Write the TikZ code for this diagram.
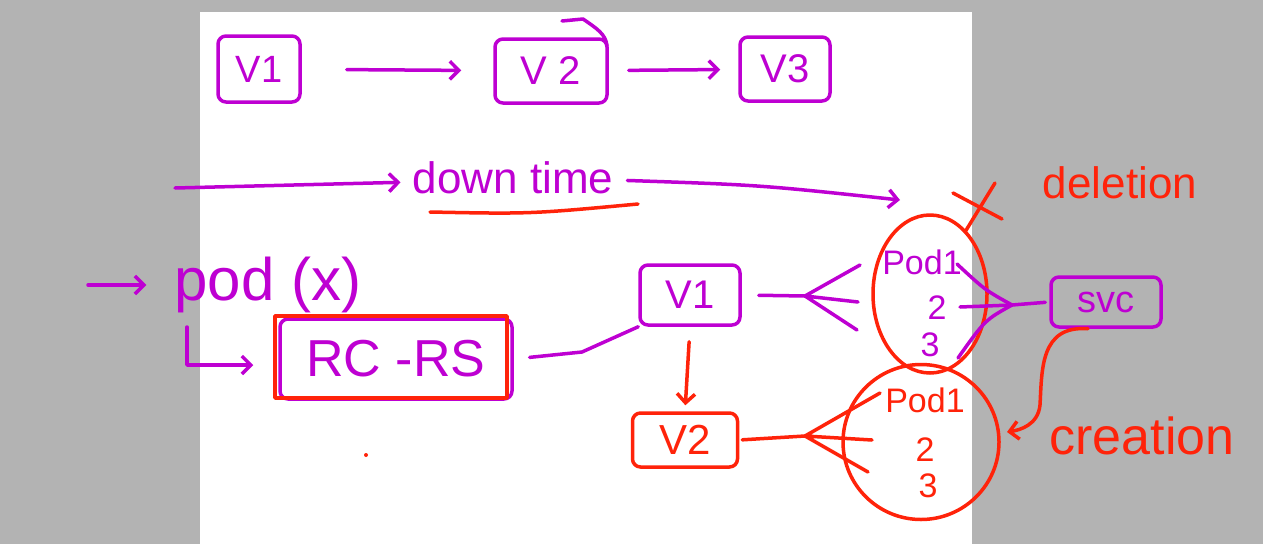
\documentclass[tikz,border=0pt]{standalone}
\usepackage{fontspec}
\setmainfont{Liberation Sans}
\usetikzlibrary{arrows.meta,shapes.geometric}
\definecolor{pur}{RGB}{190,0,210}
\definecolor{rd}{RGB}{255,35,10}
\definecolor{bg}{RGB}{179,179,179}
\begin{document}
\begin{tikzpicture}[x=1pt,y=-1pt,
  pen/.style={line width=3.5pt,line cap=round,line join=round},
  pbox/.style={pen,draw=pur,rounded corners=8pt,text=pur,inner sep=0pt},
  rbox/.style={pen,draw=rd,rounded corners=8pt,text=rd,inner sep=0pt},
  hand/.style={font=\fontsize{#1}{#1}\selectfont,inner sep=0pt},
  hand/.default=40,
  arr/.style={pen,-{Straight Barb[length=9pt,width=18pt,line width=3.5pt]}}
]
\fill[bg] (0,0) rectangle (1263,544);
\fill[white] (200,12) rectangle (972,544);
\useasboundingbox (0,0) rectangle (1263,544);

% top row
\node[pbox,hand=38,minimum width=82pt,minimum height=66pt] (v1t) at (259,69) {V1};
\node[pbox,hand=40,minimum width=112pt,minimum height=64pt] (v2t) at (551,71) {V 2};
\node[pbox,hand=40,minimum width=90pt,minimum height=64pt] (v3t) at (785,69) {V3};
\draw[pen,pur] (562,21) -- (583,19) .. controls (596,28) and (606,34) .. (607,46);
\draw[arr,pur,shorten <=45pt,shorten >=32pt] (v1t) -- (v2t);
\draw[arr,pur,shorten <=20pt,shorten >=18pt] (v2t) -- (v3t);

% downtime row
\node[text=pur,hand=44] (dt) at (513,178) {down time};
\coordinate (dtl) at (175,188);
\coordinate (dtr) at (900,200);
\draw[arr,pur,shorten >=12pt] (dtl) -- ([yshift=-4pt]dt.west);
\draw[arr,pur,shorten <=14pt] ([yshift=-2pt]dt.east) .. controls (760,185) .. (dtr);
\coordinate (ul1) at (430,212);
\coordinate (ul2) at (638,204);
\draw[pen,rd] (ul1) .. controls (530,214) .. (ul2);

% deletion
\node[text=rd,hand=44] (del) at (1120,183) {deletion};
\coordinate (xa) at (953,193);
\coordinate (xb) at (1002,219);
\coordinate (xc) at (995,183);
\coordinate (xd) at (965,232);
\draw[pen,rd] (xa) -- (xb);
\draw[pen,rd] (xc) -- (xd);

% pod (x)
\node[text=pur,hand=60] (pod) at (268,285) {pod (x)};
\coordinate (pa) at (88,285);
\draw[arr,pur,shorten >=28pt] (pa) -- (pod.west |- pa);

% RC-RS
\node[pbox,hand=52,minimum width=232pt,minimum height=80pt] (rc) at (396,359) {RC -RS};
\node[pen,draw=rd,minimum width=232pt,minimum height=82pt,inner sep=0pt] (rcred) at (391,357) {};
\coordinate (ls) at (187,327);
\draw[arr,pur,shorten >=20pt] (ls) |- ([yshift=-8pt]rcred.west);

% middle
\node[pbox,hand=40,minimum width=100pt,minimum height=60pt] (v1m) at (690,295) {V1};
\node[rbox,hand=42,minimum width=105pt,minimum height=54pt] (v2m) at (685,440) {V2};
\coordinate (bend) at (582,352);
\draw[pen,pur,shorten <=16pt] (rc.east) -- (bend) -- (v1m.south west);
\draw[arr,rd,shorten <=15pt,shorten >=6pt] (v1m.south) -- (v2m.north);

% pods
\node[pen,draw=rd,ellipse,minimum width=114pt,minimum height=158pt] (e1) at (930,294) {};
\node[pen,draw=rd,ellipse,minimum width=156pt,minimum height=155pt] (e2) at (921,442) {};
\node[text=pur,hand=34] (p1) at (922,262) {Pod1};
\node[text=pur,hand=34] (p2) at (937,308) {2};
\node[text=pur,hand=34] (p3) at (930,345) {3};
\node[text=rd,hand=34] (q1) at (925,400) {Pod1};
\node[text=rd,hand=34] (q2) at (925,450) {2};
\node[text=rd,hand=34] (q3) at (928,486) {3};

% fork v1m
\coordinate (f1) at (805,296);
\coordinate (f1a) at (860,265);
\coordinate (f1b) at (858,302);
\coordinate (f1c) at (857,330);
\draw[pen,pur,shorten <=17pt] (v1m.east) -- (f1);
\draw[pen,pur] (f1) -- (f1a) (f1) -- (f1b) (f1) -- (f1c);

% fork v2m
\coordinate (f2) at (805,436);
\coordinate (f2a) at (880,393);
\coordinate (f2b) at (872,440);
\coordinate (f2c) at (868,472);
\draw[pen,rd,shorten <=3pt] (v2m.east) -- (f2);
\draw[pen,rd] (f2) -- (f2a) (f2) -- (f2b) (f2) -- (f2c);

% svc
\node[pbox,hand=38,minimum width=110pt,minimum height=50pt] (svc) at (1106,302) {svc};
\coordinate (f3) at (1012,305);
\coordinate (f3a) at (957,264);
\coordinate (f3b) at (960,307);
\coordinate (f3c) at (958,358);
\draw[pen,pur,shorten <=4pt] (svc.west) -- (f3);
\draw[pen,pur] (f3) .. controls (985,290) .. (f3a);
\draw[pen,pur] (f3) -- (f3b);
\draw[pen,pur] (f3) .. controls (985,320) .. (f3c);

% creation
\node[text=rd,hand=52] (cre) at (1142,436) {creation};
\coordinate (ct) at (1007,432);
\draw[arr,rd] ([xshift=-18pt]svc.south) .. controls (1040,325) and (1042,370) .. (1040,405) .. controls (1038,425) and (1020,430) .. (ct);

% dot
\fill[rd] (366,455) circle (2pt);
\end{tikzpicture}
\end{document}
